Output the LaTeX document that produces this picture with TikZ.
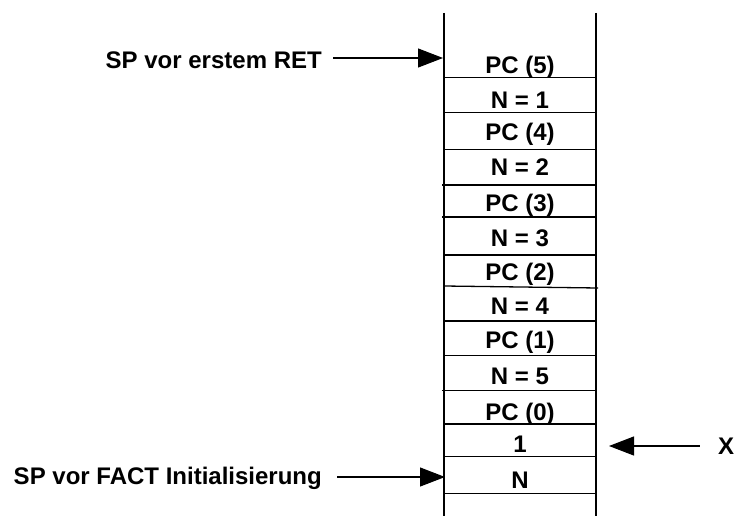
\documentclass[tikz,border=0pt]{standalone}
\usepackage{fontspec}
\setmainfont{Liberation Sans}
\usetikzlibrary{arrows.meta}
\begin{document}
\begin{tikzpicture}[x=1pt,y=-1pt,
  lbl/.style={inner sep=0pt,font=\fontsize{24}{28}\selectfont\bfseries},
  cell/.style={lbl,anchor=base},
  wall/.style={line width=1.5pt},
  sep/.style={line width=1.3pt},
  arr/.style={line width=1.1pt,-{Triangle[length=25pt,width=19pt]}}]
\useasboundingbox (0,0) rectangle (736,516);
% stack walls
\coordinate (lt) at (444,13); \coordinate (lb) at (444,516);
\coordinate (rt) at (596,13); \coordinate (rb) at (596,516);
\draw[wall] (lt) -- (lb);
\draw[wall] (rt) -- (rb);
% separators
\foreach \y in {77.3,112.7,149.3,255,321,355.7,424,456.7,493.3}
  \draw[sep] (444,\y) -- (596,\y);
\foreach \y in {185,217,390.7}
  \draw[sep] (442,\y) -- (596,\y);
\draw[sep] (444,286) -- (598,288);
% cell contents
\node[cell] (c1)  at (520,73.6)  {PC (5)};
\node[cell] (c2)  at (520,108.6) {N = 1};
\node[cell] (c3)  at (520,140.6) {PC (4)};
\node[cell] (c4)  at (520,175.6) {N = 2};
\node[cell] (c5)  at (520,211.1) {PC (3)};
\node[cell] (c6)  at (520,246.1) {N = 3};
\node[cell] (c7)  at (520,280.3) {PC (2)};
\node[cell] (c8)  at (520,314.3) {N = 4};
\node[cell] (c9)  at (520,348.6) {PC (1)};
\node[cell] (c10) at (520,384.9) {N = 5};
\node[cell] (c11) at (520,420.3) {PC (0)};
\node[cell] (c12) at (520,452.6) {1};
\node[cell] (c13) at (520,488.6) {N};
% labels
\node[lbl,anchor=base east] (ret) at (322,68.6) {SP vor erstem RET};
\node[lbl,anchor=base east] (fact) at (322,484.6) {SP vor FACT Initialisierung};
\node[lbl,anchor=base] (x) at (726,454.6) {X};
% arrows
\coordinate (t1) at (443,58);
\coordinate (t2) at (445,477);
\coordinate (t3) at (609,446);
\draw[arr] ([xshift=11pt]ret.east |- t1) -- (t1);
\draw[arr] ([xshift=15pt]fact.east |- t2) -- (t2);
\draw[arr] ([xshift=-18pt]x.west |- t3) -- (t3);
\end{tikzpicture}
\end{document}
